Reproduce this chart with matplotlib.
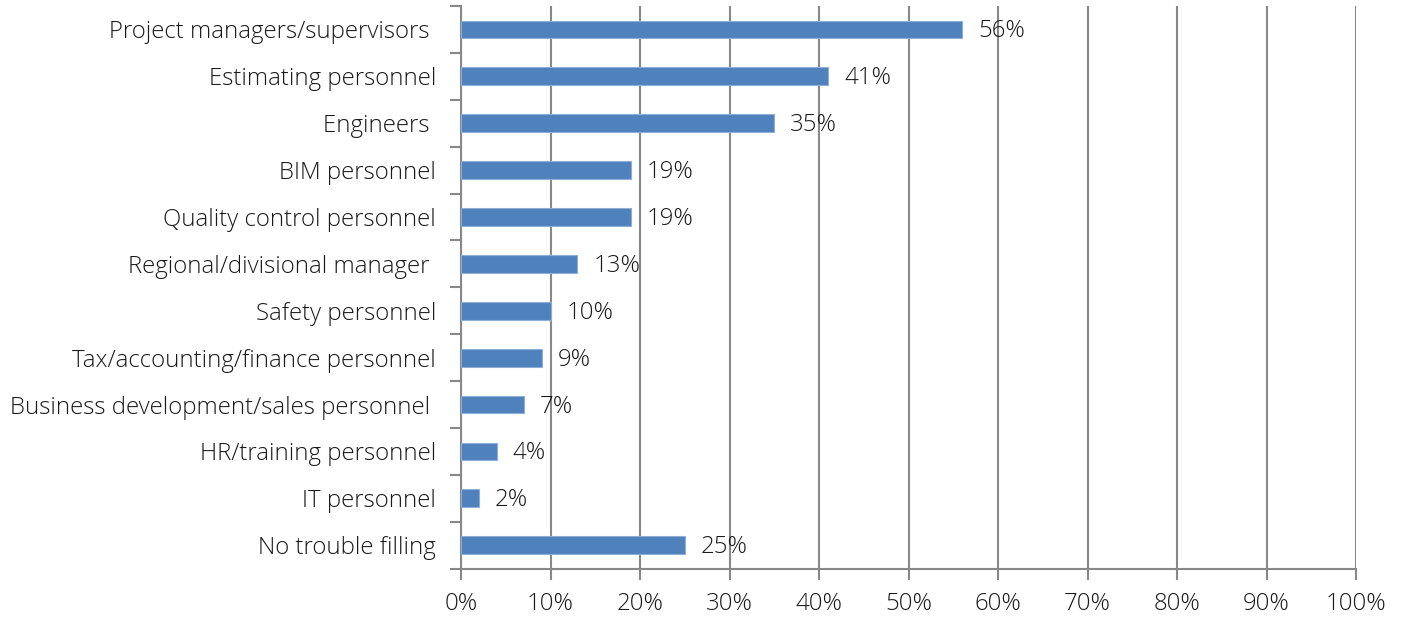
import matplotlib
matplotlib.use("Agg")
import matplotlib.pyplot as plt
from matplotlib.ticker import FuncFormatter, MultipleLocator

categories = [
    "Project managers/supervisors ",
    "Estimating personnel",
    "Engineers ",
    "BIM personnel",
    "Quality control personnel",
    "Regional/divisional manager ",
    "Safety personnel",
    "Tax/accounting/finance personnel",
    "Business development/sales personnel ",
    "HR/training personnel",
    "IT personnel",
    "No trouble filling",
]
values = [56, 41, 35, 19, 19, 13, 10, 9, 7, 4, 2, 25]

plt.rcParams['font.family'] = ['Open Sans', 'DejaVu Sans']
FS = 17.3
FW = 300
TXT = "#1a1a1a"

W, H, DPI = 1403, 619, 100
fig = plt.figure(figsize=(W / DPI, H / DPI), dpi=DPI)
left, right, top, bottom = 461, 1356, 6, 568.7
ax = fig.add_axes([left / W, 1 - bottom / H, (right - left) / W, (bottom - top) / H])

n = len(categories)
ypos = list(range(n))
ax.barh(ypos, values, height=0.38, color="#4F81BD", edgecolor="#8EAFD8",
        linewidth=0.8, zorder=3)
ax.set_ylim(n - 0.5, -0.5)
ax.set_xlim(0, 100)

for y, v in zip(ypos, values):
    ax.annotate(f"{v}%", xy=(v, y), xytext=(16, -2), textcoords="offset pixels",
                va="center", ha="left", fontsize=FS, color=TXT,
                fontweight=FW, zorder=4)

ax.xaxis.set_major_locator(MultipleLocator(10))
ax.xaxis.set_major_formatter(FuncFormatter(lambda x, p: f"{x:.0f}%"))
ax.set_yticks([i - 0.5 for i in range(n + 1)], minor=False)
ax.set_yticklabels([])
ax.set_yticks(ypos, minor=True)
ax.set_yticklabels(categories, minor=True)
ax.tick_params(axis="y", which="minor", length=0, pad=18, labelsize=FS,
               labelcolor=TXT)
ax.tick_params(axis="y", which="major", length=8, width=1.5, color="#888888",
               direction="out")
ax.tick_params(axis="x", length=8, width=1.5, color="#888888", direction="out",
               labelsize=FS, labelcolor=TXT, pad=9)
for lab in ax.get_yticklabels(minor=True) + ax.get_xticklabels():
    lab.set_fontweight(FW)

ax.grid(axis="x", color="#888888", linewidth=1.5, zorder=0)
ax.set_axisbelow(True)
for s in ["top", "right"]:
    ax.spines[s].set_visible(False)
for s in ["left", "bottom"]:
    ax.spines[s].set_color("#888888")
    ax.spines[s].set_linewidth(1.5)

fig.savefig("out.png", dpi=DPI)
